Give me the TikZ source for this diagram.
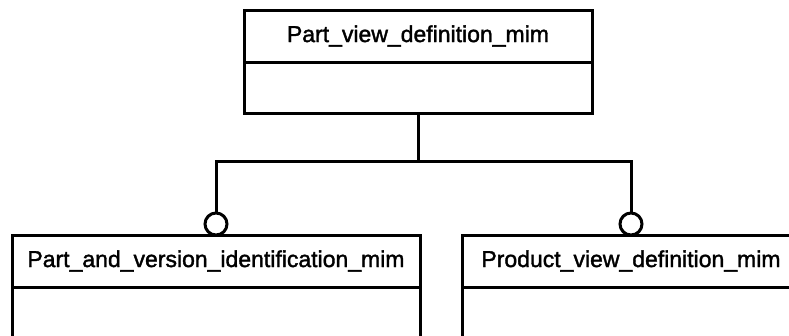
\documentclass[tikz,border=0pt]{standalone}
\usepackage{fontspec}
\setmainfont{Liberation Sans}
\newfontfamily\lblfont[FakeBold=1.6]{Liberation Sans}
\begin{document}
\begin{tikzpicture}[x=1pt,y=-1pt,
  every node/.style={inner sep=0pt, outer sep=0pt},
  box/.style={draw=black, line width=3pt, rectangle, font=\lblfont\fontsize{23}{27}\selectfont},
  ring/.style={draw=black, line width=3pt, circle, minimum size=22pt, fill=white},
  link/.style={draw=black, line width=3pt}]
\useasboundingbox (0,0) rectangle (789,335);
\clip (0,0) rectangle (789,335);
% top entity
\node[box, minimum width=348pt, minimum height=52pt] (toph) at (418,36) {Part\_view\_definition\_mim};
\node[box, minimum width=348pt, minimum height=51pt] (topb) at (418,87.5) {};
% left entity
\node[box, minimum width=408pt, minimum height=52pt] (lefth) at (216,261) {Part\_and\_version\_identification\_mim};
\node[box, minimum width=408pt, minimum height=80pt] (leftb) at (216,327) {};
% right entity
\node[box, minimum width=338pt, minimum height=52pt] (righth) at (631,261) {Product\_view\_definition\_mim};
\node[box, minimum width=338pt, minimum height=80pt] (rightb) at (631,327) {};
% connectors
\coordinate (j) at (418,161);
\node[ring] (c1) at (216,224) {};
\node[ring] (c2) at (631,224) {};
\draw[link] (topb.south) -- (j);
\draw[link] (c1.north) |- (j);
\draw[link] (c2.north) |- (j);
\end{tikzpicture}
\end{document}
